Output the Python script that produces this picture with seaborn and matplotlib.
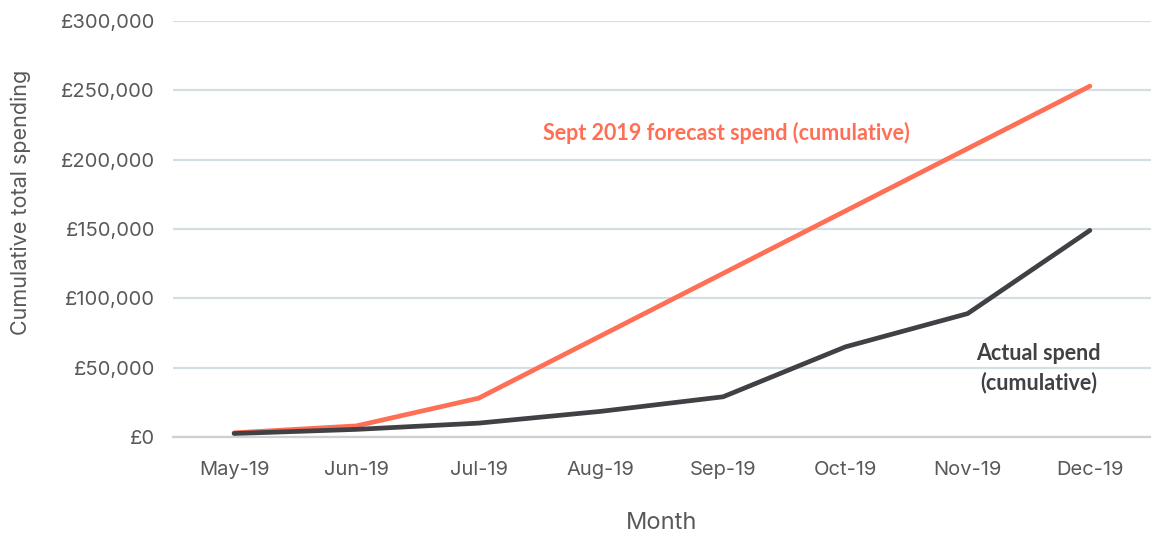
import numpy as np
import pandas as pd
import seaborn as sns
import matplotlib.pyplot as plt
from matplotlib.ticker import FuncFormatter, FixedLocator

sns.set_theme(style="white")
plt.rcParams['font.family'] = ['Inter', 'DejaVu Sans']

months = ["May-19", "Jun-19", "Jul-19", "Aug-19", "Sep-19", "Oct-19", "Nov-19", "Dec-19"]
forecast = [3000, 8000, 28000, 73000, 118000, 163000, 208000, 253000]
actual = [2500, 5500, 10000, 18500, 29000, 65000, 89000, 149000]

forecast_col = "#ff6f55"
actual_col = "#404045"
text_col = "#595959"

fig = plt.figure(figsize=(11.51, 5.36), dpi=100)
ax = fig.add_axes([0.1503, 0.1847, 0.8497, 0.7761])

sns.lineplot(x=months, y=forecast, ax=ax, color=forecast_col, linewidth=3.4, sort=False)
sns.lineplot(x=months, y=actual, ax=ax, color=actual_col, linewidth=3.4, sort=False)

ax.set_xlim(-0.5, len(months) - 0.5)
ax.set_ylim(0, 300000)
ax.set_yticks(np.arange(0, 300001, 50000))
ax.yaxis.set_major_formatter(FuncFormatter(lambda v, p: f"£{int(v):,}"))
ax.grid(axis="y", color="#d3dfe3", linewidth=1.6)
ax.set_axisbelow(True)

for s in ["top", "right", "left"]:
    ax.spines[s].set_visible(False)
ax.spines["bottom"].set_color("#d0d0d0")
ax.spines["bottom"].set_linewidth(1.6)

ax.xaxis.set_minor_locator(FixedLocator(np.arange(-0.5, len(months), 1.0)))
ax.tick_params(axis="x", which="major", length=0, pad=17, labelsize=14.5, labelcolor=text_col)
ax.tick_params(axis="x", which="minor", length=7, width=1.4, color="#d0d0d0", direction="out")
ax.tick_params(axis="y", length=0, pad=13, labelsize=14.5, labelcolor=text_col)

ax.set_xlabel("Month", fontsize=17, color=text_col, labelpad=24)
ax.set_ylabel("Cumulative total spending", fontsize=15.5, color=text_col)
ax.yaxis.set_label_coords(-0.145, 0.565)

ax.text(4.03, 219000, "Sept 2019 forecast spend (cumulative)", color=forecast_col,
        fontsize=15.5, fontweight="bold", family=["Lato", "DejaVu Sans"], ha="center", va="center")
ax.text(6.58, 49500, "Actual spend\n(cumulative)", color=actual_col,
        fontsize=15.5, fontweight="bold", family=["Lato", "DejaVu Sans"], ha="center", va="center",
        linespacing=1.45)

fig.savefig("out.png", dpi=100)
